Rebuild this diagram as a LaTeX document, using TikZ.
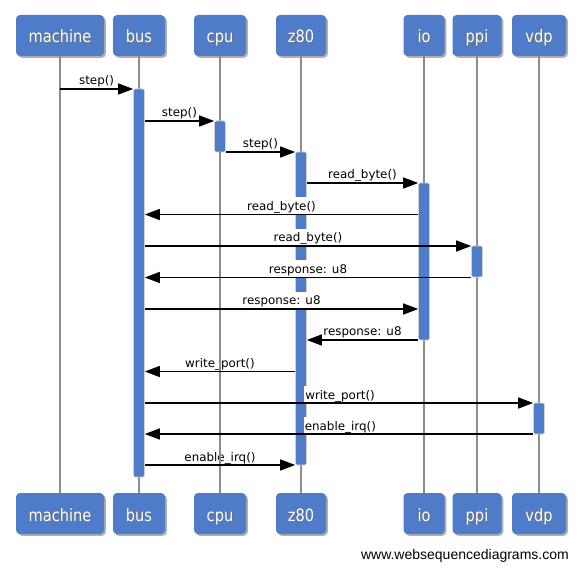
\documentclass[tikz,border=0pt]{standalone}
\usepackage{fontspec}
\setmainfont{DejaVu Sans}
\newfontfamily\footfont{Liberation Sans}
\newfontfamily\actorface[FakeStretch=0.86]{DejaVu Sans}
\usetikzlibrary{arrows.meta,shadows}
\definecolor{wsdblue}{RGB}{79,124,200}
\definecolor{lifegray}{RGB}{140,140,140}
\newcommand\lblfont{\fontsize{11.9}{14}\selectfont}
\newcommand\actorfont{\actorface\fontsize{17}{20}\selectfont}
\newcommand\shtext[1]{\leavevmode\rlap{\kern0.9pt\raisebox{-0.9pt}{\textcolor{black!55}{#1}}}#1}
\begin{document}
\begin{tikzpicture}[x=1pt,y=-1pt,
  actor/.style={fill=wsdblue, rounded corners=4pt, minimum height=41pt, inner sep=0pt,
    text=white, font=\actorfont, text height=15pt, text depth=0pt,
    drop shadow={shadow xshift=1.8pt, shadow yshift=-1.8pt, fill=black!45, opacity=0.7}},
  lifeline/.style={draw=lifegray, line width=1.5pt},
  actbar/.style={fill=wsdblue, draw=black!18, line width=0.6pt, minimum width=11pt,
    inner sep=0pt, rounded corners=1.5pt},
  lbl/.style={font=\lblfont, fill=white, inner xsep=1pt, inner ysep=0.5pt,
    text height=12.5pt, text depth=3.5pt, anchor=south, outer sep=0pt},
  msgarrow/.style={draw=black, line width=1.4pt, -{Triangle[length=15pt,width=11pt]}}]
\useasboundingbox (0,0) rectangle (581,569);
% header actors
\node[actor, minimum width=88pt] (hm)   at (60,35.5)  {\shtext{machine}};
\node[actor, minimum width=52pt] (hbus) at (139,35.5) {\shtext{bus}};
\node[actor, minimum width=52pt] (hcpu) at (220,35.5) {\shtext{cpu}};
\node[actor, minimum width=50pt] (hz80) at (301,35.5) {\shtext{z80}};
\node[actor, minimum width=41pt] (hio)  at (424,35.5) {\shtext{io}};
\node[actor, minimum width=49pt] (hppi) at (477,35.5) {\shtext{ppi}};
\node[actor, minimum width=54pt] (hvdp) at (539,35.5) {\shtext{vdp}};
% footer actors
\node[actor, minimum width=88pt] (fm)   at (60,513.5)  {\shtext{machine}};
\node[actor, minimum width=52pt] (fbus) at (139,513.5) {\shtext{bus}};
\node[actor, minimum width=52pt] (fcpu) at (220,513.5) {\shtext{cpu}};
\node[actor, minimum width=50pt] (fz80) at (301,513.5) {\shtext{z80}};
\node[actor, minimum width=41pt] (fio)  at (424,513.5) {\shtext{io}};
\node[actor, minimum width=49pt] (fppi) at (477,513.5) {\shtext{ppi}};
\node[actor, minimum width=54pt] (fvdp) at (539,513.5) {\shtext{vdp}};
% lifelines
\draw[lifeline] (hm.south) -- (fm.north);
\draw[lifeline] (hbus.south) -- (fbus.north);
\draw[lifeline] (hcpu.south) -- (fcpu.north);
\draw[lifeline] (hz80.south) -- (fz80.north);
\draw[lifeline] (hio.south) -- (fio.north);
\draw[lifeline] (hppi.south) -- (fppi.north);
\draw[lifeline] (hvdp.south) -- (fvdp.north);
% activation bars
\node[actbar, minimum height=388pt] (bbus) at (139,283)   {};
\node[actbar, minimum height=31pt]  (bcpu) at (220,136.5) {};
\node[actbar, minimum height=313pt] (bz80) at (301,308.5) {};
\node[actbar, minimum height=157pt] (bio)  at (424,261.5) {};
\node[actbar, minimum height=31pt]  (bppi) at (477,261.5) {};
\node[actbar, minimum height=31pt]  (bvdp) at (539,418.5) {};
% message rows
\coordinate (r1) at (0,89);
\coordinate (r2) at (0,121);
\coordinate (r3) at (0,152);
\coordinate (r4) at (0,183);
\coordinate (r5) at (0,214.5);
\coordinate (r6) at (0,246);
\coordinate (r7) at (0,277.5);
\coordinate (r8) at (0,309);
\coordinate (r9) at (0,340);
\coordinate (r10) at (0,371.5);
\coordinate (r11) at (0,403);
\coordinate (r12) at (0,434);
\coordinate (r13) at (0,465);
% labels
\path (hm |- r1) -- (bbus.west |- r1) node[lbl, midway] {step()};
\path (bbus.east |- r2) -- (bcpu.west |- r2) node[lbl, midway] {step()};
\path (bcpu.east |- r3) -- (bz80.west |- r3) node[lbl, midway] {step()};
\path (bz80.east |- r4) -- (bio.west |- r4) node[lbl, midway] {read\_byte()};
\path (bio.west |- r5) -- (bbus.east |- r5) node[lbl, midway] {read\_byte()};
\path (bbus.east |- r6) -- (bppi.west |- r6) node[lbl, midway] {read\_byte()};
\path (bppi.west |- r7) -- (bbus.east |- r7) node[lbl, midway] {response: u8};
\path (bbus.east |- r8) -- (bio.west |- r8) node[lbl, midway] {response: u8};
\path (bio.west |- r9) -- (bz80.east |- r9) node[lbl, midway] {response: u8};
\path (bz80.west |- r10) -- (bbus.east |- r10) node[lbl, midway] {write\_port()};
\node[lbl, anchor=south west] (l11) at ([xshift=-2.5pt]bz80.east |- r11) {write\_port()};
\node[lbl, anchor=south west] (l12) at ([xshift=-3pt]bz80.east |- r12) {enable\_irq()};
\path (bbus.east |- r13) -- (bz80.west |- r13) node[lbl, midway] {enable\_irq()};
% cpu lifeline shows through labels
\draw[lifeline] (bcpu.south) -- (fcpu.north);
% messages
\draw[msgarrow] (hm |- r1) -- (bbus.west |- r1);
\draw[msgarrow] (bbus.east |- r2) -- (bcpu.west |- r2);
\draw[msgarrow] (bcpu.east |- r3) -- (bz80.west |- r3);
\draw[msgarrow] (bz80.east |- r4) -- (bio.west |- r4);
\draw[msgarrow] (bio.west |- r5) -- (bbus.east |- r5);
\draw[msgarrow] (bbus.east |- r6) -- (bppi.west |- r6);
\draw[msgarrow] (bppi.west |- r7) -- (bbus.east |- r7);
\draw[msgarrow] (bbus.east |- r8) -- (bio.west |- r8);
\draw[msgarrow] (bio.west |- r9) -- (bz80.east |- r9);
\draw[msgarrow] (bz80.west |- r10) -- (bbus.east |- r10);
\draw[msgarrow] (bbus.east |- r11) -- (bvdp.west |- r11);
\draw[msgarrow] (bvdp.west |- r12) -- (bbus.east |- r12);
\draw[msgarrow] (bbus.east |- r13) -- (bz80.west |- r13);
% footer
\node[anchor=base east, inner sep=0pt, font=\footfont\fontsize{14}{16}\selectfont] (credit) at (569,559) {www.websequencediagrams.com};
\end{tikzpicture}
\end{document}
